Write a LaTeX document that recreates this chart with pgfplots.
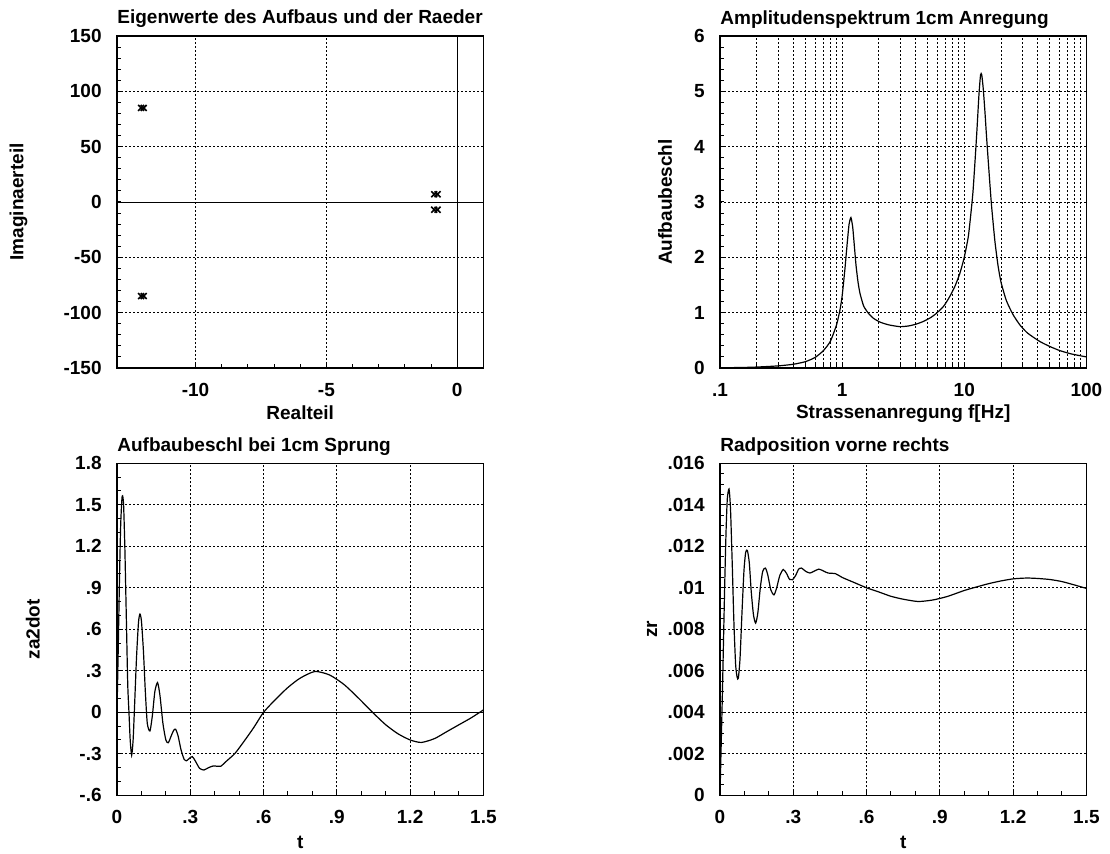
\documentclass[border=0pt]{standalone}
\usepackage{fontspec}
\setmainfont{Liberation Sans}
\usepackage{pgfplots}
\pgfplotsset{compat=1.18}

\pgfplotsset{
  myaxis/.style={
    scale only axis, width=183.2pt, height=166pt,
    axis line style={line width=0.75pt},
    tick pos=left, tick align=inside,
    major tick length=2pt, minor tick length=2.2pt,
    tick style={black, line width=0.5pt},
    xmajorgrids, ymajorgrids,
    major grid style={black, line width=0.45pt, dash pattern=on 1pt off 1pt},
    minor grid style={black, line width=0.45pt, dash pattern=on 1pt off 1pt},
    tick label style={font=\fontsize{9.5}{11}\selectfont\bfseries},
    yticklabel style={inner sep=0pt, xshift=-7.5pt},
    xticklabel style={inner sep=0pt, yshift=-7.5pt},
    label style={font=\fontsize{9.5}{11}\selectfont\bfseries},
    every axis title shift=0pt,
    title style={font=\fontsize{9.5}{11}\selectfont\bfseries, at={(axis description cs:0,1)}, anchor=base west, yshift=6pt, inner sep=0pt},
    xlabel style={at={(axis description cs:0.5,-0.136)}, anchor=center, inner sep=0pt},
    scaled ticks=false,
  },
  curve/.style={black, line width=0.6pt, no markers},
}

\begin{document}
\begin{tikzpicture}
\useasboundingbox (0,-427pt) rectangle (555pt,0);

% ---------------- Plot 1: Eigenwerte ----------------
\begin{axis}[myaxis, at={(58.5pt,-184pt)}, anchor=south west,
  title={Eigenwerte des Aufbaus und der Raeder},
  xlabel={Realteil}, ylabel={Imaginaerteil},
  ylabel style={at={(axis description cs:-0.269,0.5)}, anchor=center, inner sep=0pt},
  xmin=-13, xmax=1, ymin=-150, ymax=150,
  xtick={-10,-5,0}, xticklabels={-10,-5,0},
  ytick={-150,-100,-50,0,50,100,150}, yticklabels={-150,-100,-50,0,50,100,150},
  minor x tick num=4, minor y tick num=4,
]
\addplot[black, line width=0.45pt] coordinates {(-13,0) (1,0)};
\addplot[black, line width=0.45pt] coordinates {(0,-150) (0,150)};
\addplot[only marks, mark=x, mark size=2.1pt, mark options={line width=0.8pt}, black] coordinates {
  (-12.08,85) (-11.98,85) (-12.08,-85) (-11.98,-85)
  (-0.88,7) (-0.75,7) (-0.88,-7) (-0.75,-7)
};
\end{axis}

% ---------------- Plot 2: Amplitudenspektrum ----------------
\begin{axis}[myaxis, at={(360pt,-184pt)}, anchor=south west,
  title={Amplitudenspektrum 1cm Anregung},
  xlabel={Strassenanregung f[Hz]}, ylabel={Aufbaubeschl},
  ylabel style={at={(axis description cs:-0.150,0.5)}, anchor=center, inner sep=0pt},
  xmode=log, xmin=0.1, xmax=100, ymin=0, ymax=6,
  xtick={0.1,1,10,100}, xticklabels={.1,1,10,100},
  ytick={0,1,2,3,4,5,6}, yticklabels={0,1,2,3,4,5,6},
  minor y tick num=4, xminorgrids,
]
\addplot[curve, smooth, tension=0.35] table {
0.1 0.004
0.15 0.009
0.2 0.017
0.3 0.038
0.4 0.068
0.5 0.114
0.6 0.19
0.7 0.31
0.8 0.48
0.9 0.78
0.96 1.05
1.0 1.3
1.05 1.75
1.1 2.25
1.14 2.6
1.18 2.72
1.22 2.55
1.26 2.2
1.3 1.85
1.35 1.55
1.4 1.35
1.5 1.12
1.64 0.99
1.8 0.9
2.04 0.83
2.4 0.78
2.97 0.747
3.5 0.76
4.0 0.79
4.61 0.84
5.3 0.91
5.93 0.99
6.8 1.12
7.6 1.29
8.4 1.48
9.2 1.71
10.0 2.0
10.8 2.38
11.4 2.85
11.8 3.2
12.3 3.8
12.7 4.3
13.2 4.95
13.6 5.3
13.9 5.3
14.3 5.05
14.8 4.6
15.2 4.2
16.0 3.5
16.7 2.95
17.8 2.3
18.9 1.85
20.0 1.55
22.1 1.22
25 0.97
28.5 0.78
33 0.63
41.5 0.48
50 0.39
60.5 0.315
75 0.255
100 0.2
};
\end{axis}

% ---------------- Plot 3: Aufbaubeschl bei Sprung ----------------
\begin{axis}[myaxis, at={(58.5pt,-397.65pt)}, anchor=south west,
  title={Aufbaubeschl bei 1cm Sprung},
  xlabel={t}, ylabel={za2dot},
  xlabel style={at={(axis description cs:0.5,-0.1408)}},
  ylabel style={at={(axis description cs:-0.2295,0.5)}, anchor=center, inner sep=0pt},
  xmin=0, xmax=1.5, ymin=-0.6, ymax=1.8,
  xtick={0,0.3,0.6,0.9,1.2,1.5}, xticklabels={0,.3,.6,.9,1.2,1.5},
  ytick={-0.6,-0.3,0,0.3,0.6,0.9,1.2,1.5,1.8}, yticklabels={-.6,-.3,0,.3,.6,.9,1.2,1.5,1.8},
  minor x tick num=2, minor y tick num=2,
]
\addplot[black, line width=0.5pt] coordinates {(0,0) (1.5,0)};
\addplot[curve, smooth, tension=0.4] table {
0 0
0.005 0.45
0.01 0.95
0.015 1.35
0.02 1.54
0.023 1.565
0.027 1.5
0.032 1.2
0.038 0.7
0.044 0.2
0.049 0
0.054 -0.2
0.060 -0.31
0.066 -0.2
0.072 0.05
0.08 0.4
0.088 0.65
0.094 0.71
0.1 0.66
0.108 0.45
0.116 0.15
0.124 -0.08
0.135 -0.135
0.145 -0.02
0.155 0.15
0.166 0.215
0.176 0.12
0.188 -0.08
0.2 -0.2
0.21 -0.22
0.222 -0.17
0.232 -0.13
0.24 -0.123
0.25 -0.17
0.262 -0.27
0.275 -0.34
0.285 -0.35
0.295 -0.335
0.308 -0.32
0.32 -0.35
0.338 -0.405
0.356 -0.417
0.375 -0.4
0.394 -0.388
0.41 -0.39
0.425 -0.39
0.45 -0.35
0.483 -0.297
0.52 -0.21
0.56 -0.11
0.6 0
0.65 0.095
0.7 0.18
0.75 0.247
0.81 0.295
0.87 0.27
0.93 0.2
0.99 0.1
1.046 0
1.1 -0.09
1.15 -0.155
1.2 -0.2
1.246 -0.218
1.3 -0.19
1.35 -0.14
1.4 -0.09
1.45 -0.04
1.5 0.017
};
\end{axis}

% ---------------- Plot 4: Radposition ----------------
\begin{axis}[myaxis, at={(360pt,-397.65pt)}, anchor=south west,
  title={Radposition vorne rechts},
  xlabel={t}, ylabel={zr},
  xlabel style={at={(axis description cs:0.5,-0.1408)}},
  ylabel style={at={(axis description cs:-0.1855,0.5)}, anchor=center, inner sep=0pt},
  xmin=0, xmax=1.5, ymin=0, ymax=0.016,
  xtick={0,0.3,0.6,0.9,1.2,1.5}, xticklabels={0,.3,.6,.9,1.2,1.5},
  ytick={0,0.002,0.004,0.006,0.008,0.01,0.012,0.014,0.016},
  yticklabels={0,.002,.004,.006,.008,.01,.012,.014,.016},
  minor x tick num=2, minor y tick num=3,
]
\addplot[curve, smooth, tension=0.4] table {
0 0
0.005 0.0025
0.01 0.005
0.015 0.0078
0.02 0.0105
0.025 0.0128
0.03 0.0143
0.037 0.01476
0.043 0.0138
0.05 0.0112
0.057 0.0083
0.064 0.0063
0.07 0.0057
0.075 0.00564
0.082 0.0066
0.09 0.0088
0.098 0.0108
0.105 0.0117
0.112 0.0118
0.12 0.0112
0.128 0.0098
0.137 0.0087
0.146 0.0083
0.155 0.0088
0.165 0.0100
0.175 0.0108
0.186 0.01095
0.196 0.0106
0.208 0.0099
0.221 0.00966
0.232 0.0100
0.245 0.0106
0.259 0.01088
0.272 0.0107
0.285 0.0104
0.297 0.01039
0.31 0.0106
0.322 0.0109
0.334 0.01095
0.35 0.0108
0.368 0.01071
0.385 0.0108
0.405 0.0109
0.425 0.0108
0.443 0.01071
0.473 0.01068
0.5 0.0105
0.55 0.01025
0.6 0.0100
0.65 0.0098
0.7 0.00959
0.75 0.00945
0.811 0.00934
0.87 0.00941
0.93 0.00958
1.0 0.00987
1.05 0.01004
1.1 0.0102
1.15 0.01033
1.2 0.01043
1.255 0.01047
1.3 0.01045
1.35 0.0104
1.4 0.0103
1.45 0.01014
1.5 0.00997
};
\end{axis}
\end{tikzpicture}
\end{document}
